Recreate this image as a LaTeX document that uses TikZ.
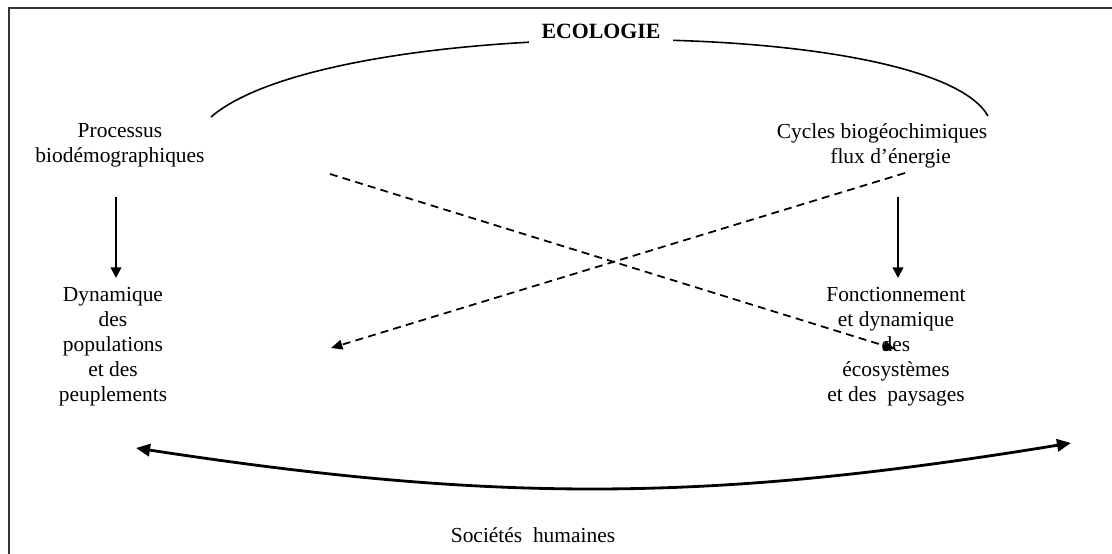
\documentclass[tikz,border=0pt]{standalone}
\usepackage{fontspec}
\setmainfont{Liberation Serif}
\usetikzlibrary{arrows.meta}
\tikzset{
    frame/.style = {line width=1.2pt, draw=black!80},
    txt/.style = {align=center, inner sep=1pt, font=\fontsize{12.2}{14.2}\selectfont},
    ttl/.style = {fill=white, inner xsep=7pt, inner ysep=5pt, font=\fontsize{12.4}{14}\selectfont\bfseries},
    edgea/.style = {line width=0.9pt},
    edgen/.style = {-{Triangle[length=6pt,width=6pt]}, line width=1pt},
    edged/.style = {-{Triangle[length=6.5pt,width=5.5pt]}, line width=1pt, dash pattern=on 4.5pt off 3pt},
    edgew/.style = {{Triangle[length=8pt,width=7pt]}-{Triangle[length=8pt,width=7pt]}, line width=1.6pt},
}

\begin{document}
\begin{tikzpicture}[x=0.02cm, y=-0.02cm]
\useasboundingbox (0,0) rectangle (1112,554);
\draw[frame] (9,554) -- (9,8) -- (1112,8);
%
\coordinate (al) at (211,117);
\coordinate (ar) at (988,116);
\draw[edgea] (al) .. controls (330,14) and (930,14) .. (ar);
\node[ttl] at (601,31) (eco) {ECOLOGIE};
%
\node[txt] at (120,145) (proc) {Processus\\biodémographiques};
\node[txt] at (882,146) (cyc) {Cycles biogéochimiques\\\hspace*{0.8em}flux d’énergie};
\node[txt] at (113,347) (dyn) {Dynamique\\des\\populations\\et des\\peuplements};
\node[txt] at (896,347) (fonc) {Fonctionnement\\et dynamique\\des\\écosystèmes\\et des\ \ paysages};
\node[txt] at (533,535) (soc) {Sociétés\ \ humaines};
%
\coordinate (p1) at (116,197);
\coordinate (p2) at (116,278);
\coordinate (c1) at (898,197);
\coordinate (c2) at (898,278);
\draw[edgen] (p1) -- (p2);
\draw[edgen] (c1) -- (c2);
%
\coordinate (d1) at (330,174);
\coordinate (d2) at (895,349);
\coordinate (d3) at (905,173);
\coordinate (d4) at (331,348);
\draw[edged] (d1) -- (d2);
\draw[edged] (d3) -- (d4);
%
\coordinate (sl) at (136,448);
\coordinate (sr) at (1071,443);
\draw[edgew] (sl) to[bend right=9] (sr);
\end{tikzpicture}
\end{document}
